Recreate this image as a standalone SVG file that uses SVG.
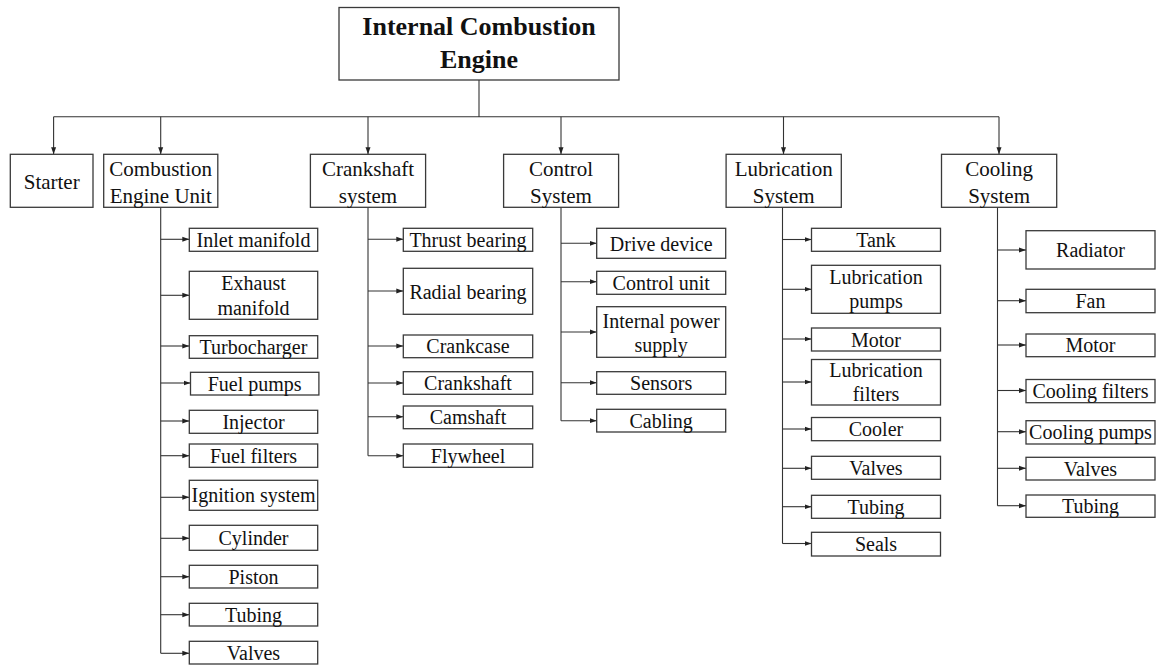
<svg xmlns="http://www.w3.org/2000/svg" width="1158" height="666" viewBox="0 0 1158 666">
<style>
.box{fill:#fff;stroke:#3a3a3a;stroke-width:1.3}
.t{font-family:'Liberation Serif','Times New Roman',Times,Tinos,'DejaVu Serif',serif;font-size:20px;text-anchor:middle;fill:#111}
.t1{font-size:21px}
.tt{font-family:'Liberation Serif','Times New Roman',Times,Tinos,'DejaVu Serif',serif;font-size:26px;font-weight:bold;text-anchor:middle;fill:#111}
.ln{fill:none;stroke:#333;stroke-width:1.1}
.ar{fill:none;stroke:#333;stroke-width:1.1;marker-end:url(#ah)}
</style>
<defs>
<marker id="ah" markerUnits="userSpaceOnUse" markerWidth="8" markerHeight="6" refX="7" refY="3" orient="auto">
<path d="M0,0.5 L7,3 L0,5.5 z" fill="#222"/>
</marker>
</defs>
<rect width="1158" height="666" fill="#fff"/>
<g id="connectors">
<path class="ln" d="M479 80V116.7M53.6 116.7H999"/>
<path class="ar" d="M53.6 116.7V154.3"/>
<path class="ar" d="M160.7 116.7V154.3"/>
<path class="ar" d="M368 116.7V154.3"/>
<path class="ar" d="M561 116.7V154.3"/>
<path class="ar" d="M783.5 116.7V154.3"/>
<path class="ar" d="M999 116.7V154.3"/>
<path class="ln" d="M160.7 207.3V653.3"/>
<path class="ar" d="M160.7 239.3H189.3"/>
<path class="ar" d="M160.7 295.3H189.3"/>
<path class="ar" d="M160.7 346H189.3"/>
<path class="ar" d="M160.7 383H190.5"/>
<path class="ar" d="M160.7 421H189.3"/>
<path class="ar" d="M160.7 455.7H189.3"/>
<path class="ar" d="M160.7 497.3H189.3"/>
<path class="ar" d="M160.7 538.3H189.3"/>
<path class="ar" d="M160.7 576.7H189.3"/>
<path class="ar" d="M160.7 614.7H189.3"/>
<path class="ar" d="M160.7 653.3H189.3"/>
<path class="ln" d="M368 207.3V455.7"/>
<path class="ar" d="M368 239.3H403.3"/>
<path class="ar" d="M368 291H403.3"/>
<path class="ar" d="M368 346H403.3"/>
<path class="ar" d="M368 383H403.3"/>
<path class="ar" d="M368 416.7H403.3"/>
<path class="ar" d="M368 455.7H403.3"/>
<path class="ln" d="M561 207.3V420.7"/>
<path class="ar" d="M561 243.3H596.7"/>
<path class="ar" d="M561 281.7H596.7"/>
<path class="ar" d="M561 332H596.7"/>
<path class="ar" d="M561 382.7H596.7"/>
<path class="ar" d="M561 420.7H596.7"/>
<path class="ln" d="M782.5 207.3V543.5"/>
<path class="ar" d="M782.5 239.5H811.5"/>
<path class="ar" d="M782.5 289.3H811.5"/>
<path class="ar" d="M782.5 339H811.5"/>
<path class="ar" d="M782.5 382H811.5"/>
<path class="ar" d="M782.5 429H811.5"/>
<path class="ar" d="M782.5 468.3H811.5"/>
<path class="ar" d="M782.5 506.7H811.5"/>
<path class="ar" d="M782.5 543.5H811.5"/>
<path class="ln" d="M997.5 207.3V505.7"/>
<path class="ar" d="M997.5 250H1026"/>
<path class="ar" d="M997.5 300.7H1026"/>
<path class="ar" d="M997.5 345H1026"/>
<path class="ar" d="M997.5 390.5H1026"/>
<path class="ar" d="M997.5 431.7H1026"/>
<path class="ar" d="M997.5 468.3H1026"/>
<path class="ar" d="M997.5 505.7H1026"/>
</g>
<g id="root"><rect class="box" x="339" y="7.5" width="280" height="72.5"/><text class="tt" x="479" y="35">Internal Combustion</text><text class="tt" x="479" y="68">Engine</text></g>
<g id="starter"><rect class="box" x="10.3" y="154.3" width="82.7" height="53"/><text class="t t1" x="51.7" y="189">Starter</text></g>
<g id="ceu"><rect class="box" x="103.7" y="154.3" width="114.1" height="53"/><text class="t t1" x="160.7" y="175.7">Combustion</text><text class="t t1" x="160.7" y="202.7">Engine Unit</text></g>
<g id="crank"><rect class="box" x="310.4" y="154.3" width="115.2" height="53"/><text class="t t1" x="368" y="175.7">Crankshaft</text><text class="t t1" x="368" y="202.7">system</text></g>
<g id="control"><rect class="box" x="503.6" y="154.3" width="115" height="53"/><text class="t t1" x="561" y="175.7">Control</text><text class="t t1" x="561" y="202.7">System</text></g>
<g id="lub"><rect class="box" x="726.1" y="154.3" width="115.2" height="53"/><text class="t t1" x="783.7" y="175.7">Lubrication</text><text class="t t1" x="783.7" y="202.7">System</text></g>
<g id="cool"><rect class="box" x="941.5" y="154.3" width="115.2" height="53"/><text class="t t1" x="999.1" y="175.7">Cooling</text><text class="t t1" x="999.1" y="202.7">System</text></g>
<g id="ceu-inlet"><rect class="box" x="189.3" y="228.3" width="128.4" height="23"/><text class="t" x="253.5" y="246.8">Inlet manifold</text></g>
<g id="ceu-exhaust"><rect class="box" x="189.3" y="271.3" width="128.4" height="48"/><text class="t" x="253.5" y="290">Exhaust</text><text class="t" x="253.5" y="314.5">manifold</text></g>
<g id="ceu-turbo"><rect class="box" x="189.3" y="335.7" width="128.4" height="22.6"/><text class="t" x="253.5" y="354">Turbocharger</text></g>
<g id="ceu-fuelpumps"><rect class="box" x="190.5" y="372.3" width="128.4" height="22.7"/><text class="t" x="254.7" y="390.7">Fuel pumps</text></g>
<g id="ceu-injector"><rect class="box" x="189.3" y="410.3" width="128.4" height="23"/><text class="t" x="253.5" y="428.8">Injector</text></g>
<g id="ceu-fuelfilters"><rect class="box" x="189.3" y="444" width="128.4" height="23.3"/><text class="t" x="253.5" y="462.7">Fuel filters</text></g>
<g id="ceu-ignition"><rect class="box" x="189.3" y="480.3" width="128.4" height="30"/><text class="t" x="253.5" y="502.3">Ignition system</text></g>
<g id="ceu-cylinder"><rect class="box" x="189.3" y="525.3" width="128.4" height="25"/><text class="t" x="253.5" y="544.8">Cylinder</text></g>
<g id="ceu-piston"><rect class="box" x="189.3" y="565.3" width="128.4" height="22.7"/><text class="t" x="253.5" y="583.7">Piston</text></g>
<g id="ceu-tubing"><rect class="box" x="189.3" y="603.3" width="128.4" height="22.7"/><text class="t" x="253.5" y="621.7">Tubing</text></g>
<g id="ceu-valves"><rect class="box" x="189.3" y="641.3" width="128.4" height="22.7"/><text class="t" x="253.5" y="659.7">Valves</text></g>
<g id="cr-thrust"><rect class="box" x="403.3" y="228.3" width="129.4" height="23"/><text class="t" x="468" y="246.8">Thrust bearing</text></g>
<g id="cr-radial"><rect class="box" x="403.3" y="268.3" width="129.4" height="46"/><text class="t" x="468" y="299">Radial bearing</text></g>
<g id="cr-crankcase"><rect class="box" x="403.3" y="335" width="129.4" height="22.7"/><text class="t" x="468" y="353.4">Crankcase</text></g>
<g id="cr-crankshaft"><rect class="box" x="403.3" y="371.7" width="129.4" height="22.6"/><text class="t" x="468" y="390">Crankshaft</text></g>
<g id="cr-camshaft"><rect class="box" x="403.3" y="406" width="129.4" height="22.7"/><text class="t" x="468" y="424.4">Camshaft</text></g>
<g id="cr-flywheel"><rect class="box" x="403.3" y="444" width="129.4" height="23.3"/><text class="t" x="468" y="462.7">Flywheel</text></g>
<g id="co-drive"><rect class="box" x="596.7" y="228.3" width="129" height="30"/><text class="t" x="661.2" y="250.5">Drive device</text></g>
<g id="co-unit"><rect class="box" x="596.7" y="271.3" width="129" height="23"/><text class="t" x="661.2" y="289.8">Control unit</text></g>
<g id="co-power"><rect class="box" x="596.7" y="306.7" width="129" height="50.6"/><text class="t" x="661.2" y="328">Internal power</text><text class="t" x="661.2" y="351.5">supply</text></g>
<g id="co-sensors"><rect class="box" x="596.7" y="371.7" width="129" height="22.6"/><text class="t" x="661.2" y="390">Sensors</text></g>
<g id="co-cabling"><rect class="box" x="596.7" y="409.3" width="129" height="22.7"/><text class="t" x="661.2" y="427.7">Cabling</text></g>
<g id="lu-tank"><rect class="box" x="811.5" y="228.3" width="129" height="23"/><text class="t" x="876" y="246.8">Tank</text></g>
<g id="lu-pumps"><rect class="box" x="811.5" y="265.3" width="129" height="48"/><text class="t" x="876" y="283.5">Lubrication</text><text class="t" x="876" y="308">pumps</text></g>
<g id="lu-motor"><rect class="box" x="811.5" y="328" width="129" height="23"/><text class="t" x="876" y="346.5">Motor</text></g>
<g id="lu-filters"><rect class="box" x="811.5" y="359.5" width="129" height="45.5"/><text class="t" x="876" y="376.5">Lubrication</text><text class="t" x="876" y="401">filters</text></g>
<g id="lu-cooler"><rect class="box" x="811.5" y="417.5" width="129" height="23.2"/><text class="t" x="876" y="436">Cooler</text></g>
<g id="lu-valves"><rect class="box" x="811.5" y="456.3" width="129" height="23"/><text class="t" x="876" y="474.8">Valves</text></g>
<g id="lu-tubing"><rect class="box" x="811.5" y="495.3" width="129" height="23"/><text class="t" x="876" y="513.8">Tubing</text></g>
<g id="lu-seals"><rect class="box" x="811.5" y="532.3" width="129" height="23.7"/><text class="t" x="876" y="551">Seals</text></g>
<g id="cl-radiator"><rect class="box" x="1026" y="230.7" width="129" height="38.3"/><text class="t" x="1090.5" y="257.3">Radiator</text></g>
<g id="cl-fan"><rect class="box" x="1026" y="289.3" width="129" height="23.4"/><text class="t" x="1090.5" y="308">Fan</text></g>
<g id="cl-motor"><rect class="box" x="1026" y="334" width="129" height="22.7"/><text class="t" x="1090.5" y="352.3">Motor</text></g>
<g id="cl-filters"><rect class="box" x="1026" y="379.5" width="129" height="23.2"/><text class="t" x="1090.5" y="398">Cooling filters</text></g>
<g id="cl-pumps"><rect class="box" x="1026" y="420.7" width="129" height="23.3"/><text class="t" x="1090.5" y="439.3">Cooling pumps</text></g>
<g id="cl-valves"><rect class="box" x="1026" y="457.3" width="129" height="22.7"/><text class="t" x="1090.5" y="475.7">Valves</text></g>
<g id="cl-tubing"><rect class="box" x="1026" y="495" width="129" height="22.3"/><text class="t" x="1090.5" y="513.2">Tubing</text></g>
</svg>
